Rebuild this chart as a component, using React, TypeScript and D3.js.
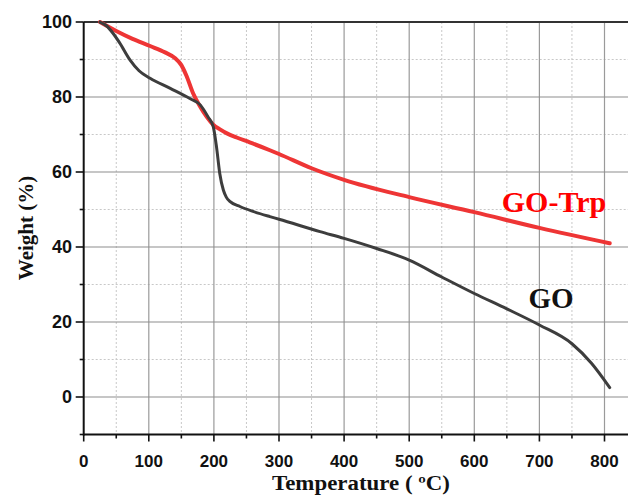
import React from "react";
import * as d3 from "d3";

const goTemp = [25, 35, 45, 55, 71, 85, 102, 133, 163, 179, 191, 199, 204, 209, 214.5, 219, 225, 240, 260, 286, 300, 363, 400, 450, 500, 550, 600, 650, 700, 750, 780, 808];
const goWeight = [100, 99, 97, 94.5, 89.9, 87, 85, 82.3, 79.6, 77.9, 74.7, 72.1, 66.7, 59.6, 55.2, 53.3, 52.1, 50.8, 49.5, 48.1, 47.4, 44.1, 42.3, 39.6, 36.5, 32, 27.6, 23.5, 19.2, 14.2, 9.0, 2.5];
const trpTemp = [25, 50, 75, 102, 125, 140, 150, 158, 168, 179, 189, 199, 210, 220, 235, 255, 286, 300, 350, 400, 500, 600, 700, 808];
const trpWeight = [100, 97.6, 95.5, 93.6, 91.9, 90.4, 88.5, 85.6, 81, 77.4, 74.7, 72.6, 71.3, 70.3, 69.2, 67.9, 65.8, 64.8, 61.0, 57.9, 53.3, 49.3, 45.1, 41.0];

const xMajor = [0, 100, 200, 300, 400, 500, 600, 700, 800];
const xMinor = [50, 150, 250, 350, 450, 550, 650, 750];
const yMajor = [0, 20, 40, 60, 80, 100];
const yMinor = [-10, 10, 30, 50, 70, 90];

const seriesLabels = ["GO", "GO-Trp"];
const xTitle = "Temperature ( ºC)";
const yTitle = "Weight (%)";

export default function App() {
  const W = 628, H = 502;
  const x = d3.scaleLinear().domain([0, 800]).range([83.7, 604.5]);
  const y = d3.scaleLinear().domain([0, 100]).range([397, 22]);
  const left = x(0), right = x(845), top = y(100), bottom = y(-10);

  const line = d3.line<[number, number]>().x(d => x(d[0])).y(d => y(d[1])).curve(d3.curveMonotoneX);
  const goPts = goTemp.map((t, i) => [t, goWeight[i]] as [number, number]);
  const trpPts = trpTemp.map((t, i) => [t, trpWeight[i]] as [number, number]);

  const sans = "'Liberation Sans', Arial, sans-serif";
  const serif = "'Liberation Serif', 'Times New Roman', serif";

  return (
    <div style={{ position: "fixed", left: 0, top: 0, width: W, height: H, background: "#fff" }}>
      <svg width={W} height={H} style={{ display: "block" }}>
        <rect x={0} y={0} width={W} height={H} fill="#fff" />
        {/* minor grid */}
        {xMinor.map(v => (
          <line key={"xm" + v} x1={x(v)} x2={x(v)} y1={top} y2={bottom} stroke="#c8c8c8" strokeWidth={1} strokeDasharray="2,2" />
        ))}
        {yMinor.filter(v => v > -10).map(v => (
          <line key={"ym" + v} x1={left} x2={right} y1={y(v)} y2={y(v)} stroke="#c8c8c8" strokeWidth={1} strokeDasharray="2,2" />
        ))}
        {/* major grid */}
        {xMajor.filter(v => v > 0).map(v => (
          <line key={"xg" + v} x1={x(v)} x2={x(v)} y1={top} y2={bottom} stroke="#9a9a9a" strokeWidth={1.2} />
        ))}
        {yMajor.filter(v => v < 100).map(v => (
          <line key={"yg" + v} x1={left} x2={right} y1={y(v)} y2={y(v)} stroke="#8e8e8e" strokeWidth={1.2} />
        ))}
        {/* frame */}
        <line x1={left} x2={right} y1={top} y2={top} stroke="#333" strokeWidth={2} />
        <line x1={left} x2={right} y1={bottom} y2={bottom} stroke="#111" strokeWidth={2} />
        <line x1={left} x2={left} y1={top} y2={bottom + 1} stroke="#111" strokeWidth={2} />
        {/* ticks */}
        {xMajor.map(v => (
          <line key={"xt" + v} x1={x(v)} x2={x(v)} y1={bottom} y2={bottom + 7} stroke="#111" strokeWidth={1.6} />
        ))}
        {xMinor.map(v => (
          <line key={"xtm" + v} x1={x(v)} x2={x(v)} y1={bottom} y2={bottom + 4} stroke="#111" strokeWidth={1.6} />
        ))}
        {yMajor.map(v => (
          <line key={"yt" + v} x1={left - 8} x2={left} y1={y(v)} y2={y(v)} stroke="#111" strokeWidth={1.6} />
        ))}
        {yMinor.map(v => (
          <line key={"ytm" + v} x1={left - 4} x2={left} y1={y(v)} y2={y(v)} stroke="#111" strokeWidth={1.6} />
        ))}
        {/* tick labels */}
        {xMajor.map(v => (
          <text key={"xl" + v} x={x(v)} y={466.5} textAnchor="middle" fontFamily={sans} fontWeight="bold" fontSize={17} fill="#111">{v}</text>
        ))}
        {yMajor.map(v => (
          <text key={"yl" + v} x={72} y={y(v) + 6} textAnchor="end" fontFamily={sans} fontWeight="bold" fontSize={18} fill="#111">{v}</text>
        ))}
        {/* data */}
        <path d={line(trpPts) || ""} fill="none" stroke="#ee3535" strokeWidth={4} strokeLinecap="round" strokeLinejoin="round" />
        <path d={line(goPts) || ""} fill="none" stroke="#3d3d3d" strokeWidth={3} strokeLinecap="round" strokeLinejoin="round" />
        {/* series labels */}
        <text x={554} y={211.7} textAnchor="middle" fontFamily={serif} fontWeight="bold" fontSize={30} fill="#ff0000">{seriesLabels[1]}</text>
        <text x={551} y={308.3} textAnchor="middle" fontFamily={serif} fontWeight="bold" fontSize={29} fill="#111">{seriesLabels[0]}</text>
        {/* axis titles */}
        <text x={361} y={490} textAnchor="middle" fontFamily={serif} fontWeight="bold" fontSize={20} fill="#111" textLength={178} lengthAdjust="spacingAndGlyphs">{xTitle}</text>
        <text transform={`translate(33,228) rotate(-90)`} textAnchor="middle" fontFamily={serif} fontWeight="bold" fontSize={21} fill="#111">{yTitle}</text>
      </svg>
    </div>
  );
}
